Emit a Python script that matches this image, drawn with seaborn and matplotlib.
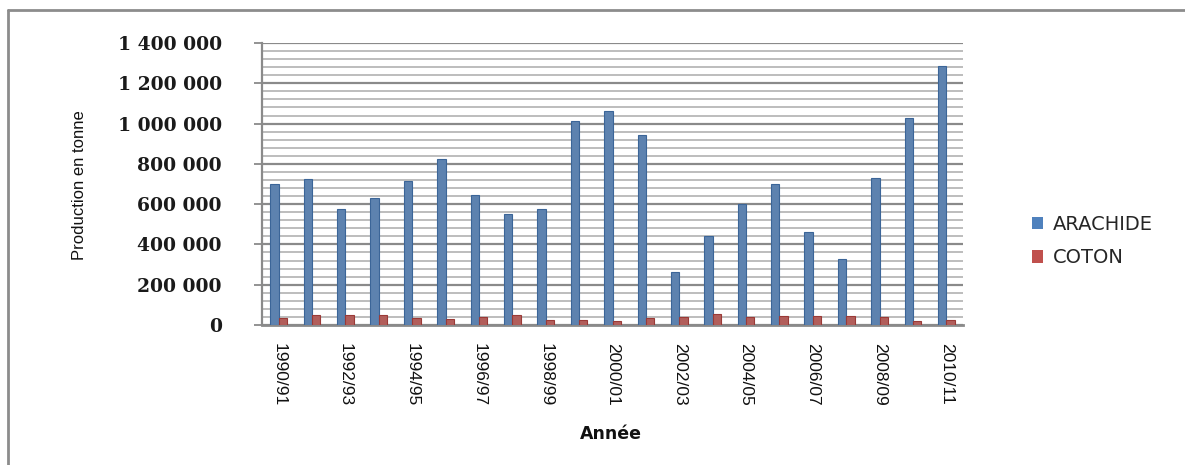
import matplotlib
matplotlib.use("Agg")
import matplotlib.pyplot as plt
import seaborn as sns
import pandas as pd
import numpy as np
from matplotlib.lines import Line2D
from matplotlib.patches import Patch
from matplotlib.ticker import FuncFormatter, MultipleLocator

# ---- data ----
seasons = ["1990/91", "1991/92", "1992/93", "1993/94", "1994/95", "1995/96", "1996/97",
           "1997/98", "1998/99", "1999/00", "2000/01", "2001/02", "2002/03", "2003/04",
           "2004/05", "2005/06", "2006/07", "2007/08", "2008/09", "2009/10", "2010/11"]
arachide = [700000, 723000, 578000, 631000, 717000, 826000, 646000,
            550000, 578000, 1013000, 1060000, 942000, 265000, 440000,
            603000, 700000, 460000, 329000, 730000, 1030000, 1286000]
coton = [36000, 50000, 50000, 48000, 36000, 28000, 38000,
         51000, 26000, 23000, 20000, 33000, 40000, 55000,
         40000, 45000, 46000, 45000, 40000, 22000, 26000]
series_names = ["ARACHIDE", "COTON"]
tick_labels = seasons[::2]
y_ticks = [0, 200000, 400000, 600000, 800000, 1000000, 1200000, 1400000]

df = pd.DataFrame({
    "Année": seasons * 2,
    "Culture": [series_names[0]] * len(seasons) + [series_names[1]] * len(seasons),
    "Production": arachide + coton,
})

colors = {"ARACHIDE": "#4F81BD", "COTON": "#C0504D"}
edges = {"ARACHIDE": "#3B6598", "COTON": "#9A3A37"}

sns.set_theme(style="white")
plt.rcParams["font.family"] = ["DejaVu Sans"]

fig = plt.figure(figsize=(11.85, 4.65), dpi=100)
ax = fig.add_axes([262 / 1185, 140 / 465, 701 / 1185, 282 / 465])

sns.barplot(data=df, x="Année", y="Production", hue="Culture", order=seasons,
            hue_order=series_names, palette=colors, width=0.5, dodge=True,
            ax=ax, legend=False, zorder=3)

for cont, name in zip(ax.containers, series_names):
    for p in cont:
        p.set_edgecolor(edges[name])
        p.set_linewidth(0.8)

ax.set_xlim(-0.5, len(seasons) - 0.5)
ax.set_ylim(0, 1400000)

# gridlines
ax.yaxis.set_major_locator(MultipleLocator(200000))
ax.yaxis.set_minor_locator(MultipleLocator(40000))
ax.grid(True, axis="y", which="major", color="#8a8a8a", linewidth=1.6, zorder=0)
ax.grid(True, axis="y", which="minor", color="#b8b8b8", linewidth=1.3, zorder=0)
ax.grid(False, axis="x")
ax.set_axisbelow(True)

ax.set_yticks(y_ticks)
ax.yaxis.set_major_formatter(FuncFormatter(lambda v, p: f"{int(v):,}".replace(",", " ")))
for lab in ax.get_yticklabels():
    lab.set_fontfamily("DejaVu Serif")
    lab.set_fontweight("bold")
    lab.set_fontsize(13.5)
    lab.set_color("#1a1a1a")
ax.tick_params(axis="y", which="major", direction="out", length=6, width=1.3,
               color="#8a8a8a", pad=23, left=True)
ax.tick_params(axis="y", which="minor", length=0)

ax.set_xticks(range(0, len(seasons), 2))
ax.set_xticklabels(tick_labels, rotation=270, fontfamily="Liberation Sans", fontsize=12.5,
                   color="#111111")
ax.tick_params(axis="x", length=0, pad=13)

for s in ["top", "right"]:
    ax.spines[s].set_visible(False)
ax.spines["left"].set_color("#8a8a8a")
ax.spines["left"].set_linewidth(1.6)
ax.spines["bottom"].set_color("#8a8a8a")
ax.spines["bottom"].set_linewidth(2.0)

ax.set_ylabel("")
ax.set_xlabel("")
fig.text(79 / 1185, 1 - 185 / 465, "Production en tonne", rotation=90, ha="center",
         va="center", fontfamily="Liberation Sans", fontsize=12, color="#111111")
fig.text(611 / 1185, 1 - 434 / 465, "Année", ha="center", va="center",
         fontfamily="DejaVu Sans", fontweight="bold", fontsize=12.5, color="#111111")

handles = [Patch(facecolor=colors[n], edgecolor="none", label=n) for n in series_names]
fig.legend(handles=handles, loc="center left", bbox_to_anchor=(1014 / 1185, 1 - 241 / 465),
           frameon=False, fontsize=14, handlelength=0.6, handleheight=0.6,
           handletextpad=0.5, labelspacing=0.75)

# outer chart border (left and top)
fig.add_artist(Line2D([8 / 1185, 8 / 1185], [0, 1 - 10 / 465], transform=fig.transFigure,
                      color="#8c8c8c", linewidth=2))
fig.add_artist(Line2D([8 / 1185, 1], [1 - 10 / 465, 1 - 10 / 465], transform=fig.transFigure,
                      color="#8c8c8c", linewidth=2))

fig.savefig("out.png", dpi=100)
